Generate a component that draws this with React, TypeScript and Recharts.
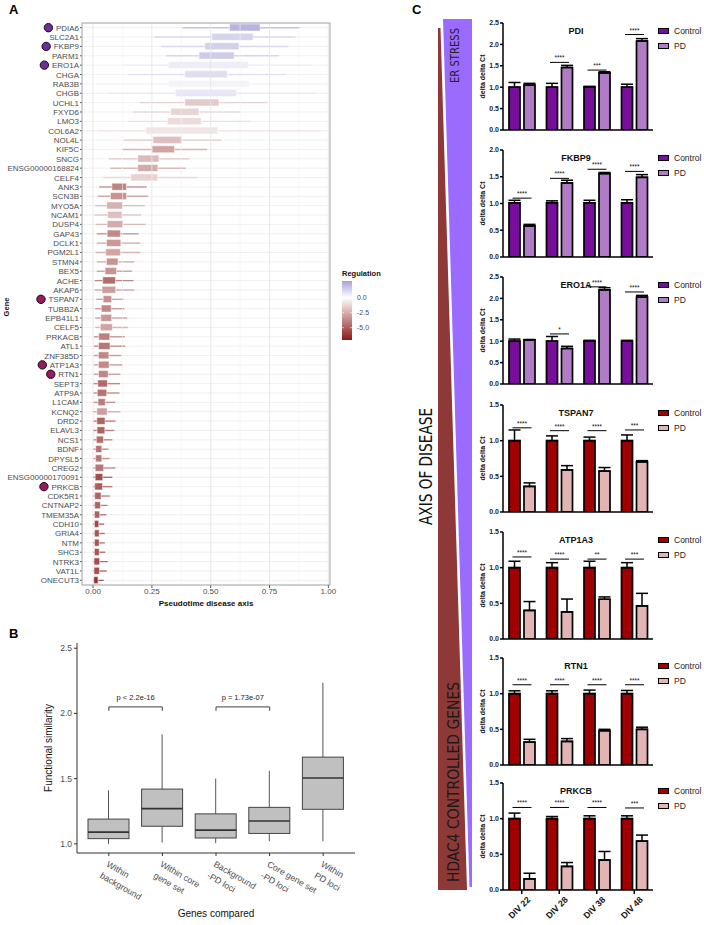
import React from "react";
import {
  ComposedChart, BarChart, Bar, XAxis, YAxis, CartesianGrid, Cell,
  ReferenceLine, ErrorBar, LabelList, Legend,
} from "recharts";

const FONT = '"Liberation Sans", Arial, sans-serif';

// ---------- A: genes along the pseudotime disease axis ----------
const GENES = [
  "PDIA6", "SLC2A1", "FKBP9", "PARM1", "ERO1A", "CHGA", "RAB3B", "CHGB", "UCHL1", "FXYD6",
  "LMO3", "COL6A2", "NOL4L", "KIF5C", "SNCG", "ENSG00000168824", "CELF4", "ANK3", "SCN3B", "MYO5A",
  "NCAM1", "DUSP4", "GAP43", "DCLK1", "PGM2L1", "STMN4", "BEX5", "ACHE", "AKAP6", "TSPAN7",
  "TUBB2A", "EPB41L1", "CELF5", "PRKACB", "ATL1", "ZNF385D", "ATP1A3", "RTN1", "SEPT3", "ATP9A",
  "L1CAM", "KCNQ2", "DRD2", "ELAVL3", "NCS1", "BDNF", "DPYSL5", "CREG2", "ENSG00000170091", "PRKCB",
  "CDK5R1", "CNTNAP2", "TMEM35A", "CDH10", "GRIA4", "NTM", "SHC3", "NTRK3", "VAT1L", "ONECUT3",
];
const WHISKER_LO = [
  0.38, 0.26, 0.29, 0.31, 0.13, 0.15, 0.08, 0.06, 0.20, 0.17,
  0.15, 0.02, 0.13, 0.125, 0.067, 0.074, 0.044, 0.026, 0.02, 0.01,
  0.006, 0.011, 0.016, 0.016, 0.011, 0.017, 0.016, 0.007, 0.007, 0.014,
  0.009, 0.009, 0.01, 0.004, 0.004, 0.004, 0.004, 0.004, 0.001, 0.001,
  0.001, 0.0, 0.001, 0.001, 0.001, 0.001, 0.001, 0.0, 0.0, 0.0,
  0.0, 0.0, 0.0, 0.0, 0.0, 0.0, 0.0, 0.0, 0.0, 0.0,
];
const BOX_LO = [
  0.58, 0.505, 0.475, 0.45, 0.32, 0.39, 0.32, 0.35, 0.39, 0.33,
  0.316, 0.224, 0.255, 0.25, 0.19, 0.19, 0.16, 0.08, 0.074, 0.058,
  0.062, 0.06, 0.06, 0.057, 0.054, 0.057, 0.051, 0.041, 0.038, 0.043,
  0.035, 0.033, 0.031, 0.024, 0.023, 0.023, 0.023, 0.023, 0.02, 0.018,
  0.021, 0.016, 0.016, 0.017, 0.014, 0.011, 0.011, 0.009, 0.009, 0.007,
  0.007, 0.007, 0.006, 0.006, 0.006, 0.006, 0.006, 0.004, 0.004, 0.003,
];
const BOX_HI = [
  0.71, 0.68, 0.62, 0.60, 0.66, 0.57, 0.665, 0.61, 0.535, 0.45,
  0.46, 0.53, 0.376, 0.346, 0.28, 0.275, 0.275, 0.142, 0.142, 0.126,
  0.123, 0.128, 0.116, 0.118, 0.116, 0.106, 0.10, 0.095, 0.096, 0.079,
  0.077, 0.079, 0.082, 0.071, 0.072, 0.067, 0.068, 0.064, 0.061, 0.058,
  0.052, 0.06, 0.051, 0.05, 0.044, 0.037, 0.037, 0.045, 0.041, 0.04,
  0.034, 0.031, 0.028, 0.024, 0.026, 0.026, 0.026, 0.028, 0.027, 0.021,
];
const WHISKER_HI = [
  0.88, 0.86, 0.83, 0.79, 0.93, 0.82, 0.97, 0.95, 0.74, 0.627,
  0.67, 0.96, 0.546, 0.484, 0.41, 0.394, 0.445, 0.228, 0.234, 0.22,
  0.204, 0.223, 0.193, 0.20, 0.20, 0.174, 0.165, 0.172, 0.176, 0.129,
  0.133, 0.145, 0.148, 0.135, 0.137, 0.12, 0.126, 0.116, 0.115, 0.112,
  0.094, 0.116, 0.095, 0.09, 0.082, 0.065, 0.07, 0.095, 0.082, 0.082,
  0.071, 0.062, 0.057, 0.047, 0.05, 0.05, 0.052, 0.062, 0.058, 0.045,
];
const REGULATION = [
  2.2, 1.3, 1.4, 1.5, 0.5, 1.0, 0.35, 0.7, -1.6, -1.3,
  -1.1, -0.8, -2.0, -2.8, -2.1, -2.6, -1.4, -3.8, -3.3, -2.4,
  -2.0, -2.6, -3.6, -3.2, -2.8, -3.3, -3.3, -4.5, -3.0, -3.4,
  -3.7, -3.2, -2.8, -3.9, -4.2, -3.7, -3.6, -3.7, -4.6, -4.3,
  -4.0, -3.0, -4.8, -4.8, -4.5, -4.3, -4.2, -4.2, -5.5, -5.0,
  -4.8, -4.8, -4.8, -5.6, -5.2, -5.2, -5.3, -5.4, -5.5, -6.2,
];
const ER_GENES = ["PDIA6", "FKBP9", "ERO1A"];
const HDAC_GENES = ["TSPAN7", "ATP1A3", "RTN1", "PRKCB"];
const PSEUDO_TICKS = [0, 0.25, 0.5, 0.75, 1];
const PSEUDO_MINOR = [0.125, 0.375, 0.625, 0.875];

// ---------- B: functional similarity ----------
const B_CATS = ["Within\nbackground", "Within core\ngene set", "Background\n-PD loci", "Core gene set\n-PD loci", "Within\nPD loci"];
const B_MIN = [1.0, 1.01, 1.005, 1.02, 1.02];
const B_Q1 = [1.04, 1.135, 1.045, 1.08, 1.265];
const B_MED = [1.09, 1.27, 1.105, 1.175, 1.505];
const B_Q3 = [1.19, 1.42, 1.23, 1.28, 1.665];
const B_MAX = [1.41, 1.84, 1.50, 1.56, 2.235];
const B_TICKS = [1.0, 1.5, 2.0, 2.5];

// ---------- C: qPCR ----------
const DIV = ["DIV 22", "DIV 28", "DIV 38", "DIV 48"];

const PDI_CONTROL = [1.0, 1.0, 1.0, 1.0];
const PDI_CONTROL_SEM = [0.11, 0.09, 0.02, 0.07];
const PDI_PD = [1.05, 1.46, 1.335, 2.08];
const PDI_PD_SEM = [0.04, 0.05, 0.025, 0.055];
const PDI_STARS = ["", "****", "***", "****"];
const PDI_STAR_Y = [0, 1.58, 1.40, 2.23];

const FKBP9_CONTROL = [1.01, 1.01, 1.01, 1.01];
const FKBP9_CONTROL_SEM = [0.05, 0.04, 0.05, 0.06];
const FKBP9_PD = [0.58, 1.385, 1.56, 1.49];
const FKBP9_PD_SEM = [0.03, 0.05, 0.02, 0.05];
const FKBP9_STARS = ["****", "****", "****", "****"];
const FKBP9_STAR_Y = [1.10, 1.47, 1.64, 1.60];

const ERO1A_CONTROL = [1.0, 1.0, 1.0, 1.0];
const ERO1A_CONTROL_SEM = [0.05, 0.11, 0.02, 0.02];
const ERO1A_PD = [1.03, 0.83, 2.2, 2.03];
const ERO1A_PD_SEM = [0.01, 0.05, 0.05, 0.04];
const ERO1A_STARS = ["", "*", "****", "****"];
const ERO1A_STAR_Y = [0, 1.17, 2.27, 2.15];

const TSPAN7_CONTROL = [1.0, 1.0, 1.0, 1.0];
const TSPAN7_CONTROL_SEM = [0.15, 0.067, 0.05, 0.08];
const TSPAN7_PD = [0.358, 0.59, 0.573, 0.703];
const TSPAN7_PD_SEM = [0.05, 0.06, 0.05, 0.017];
const TSPAN7_STARS = ["****", "****", "****", "***"];
const TSPAN7_STAR_Y = [1.18, 1.14, 1.14, 1.15];

const ATP1A3_CONTROL = [1.0, 1.0, 1.0, 1.0];
const ATP1A3_CONTROL_SEM = [0.09, 0.07, 0.09, 0.07];
const ATP1A3_PD = [0.40, 0.38, 0.557, 0.464];
const ATP1A3_PD_SEM = [0.125, 0.18, 0.033, 0.176];
const ATP1A3_STARS = ["****", "****", "**", "***"];
const ATP1A3_STAR_Y = [1.15, 1.12, 1.12, 1.12];

const RTN1_CONTROL = [1.0, 1.0, 1.0, 1.0];
const RTN1_CONTROL_SEM = [0.04, 0.04, 0.05, 0.045];
const RTN1_PD = [0.32, 0.33, 0.48, 0.50];
const RTN1_PD_SEM = [0.04, 0.04, 0.02, 0.03];
const RTN1_STARS = ["****", "****", "****", "****"];
const RTN1_STAR_Y = [1.125, 1.125, 1.125, 1.125];

const PRKCB_CONTROL = [1.0, 1.0, 1.0, 1.0];
const PRKCB_CONTROL_SEM = [0.078, 0.03, 0.04, 0.04];
const PRKCB_PD = [0.155, 0.33, 0.42, 0.685];
const PRKCB_PD_SEM = [0.08, 0.055, 0.12, 0.085];
const PRKCB_STARS = ["****", "****", "****", "***"];
const PRKCB_STAR_Y = [1.157, 1.157, 1.157, 1.15];

const ER_COLORS = ["#770f9c", "#b07cc6"];
const HD_COLORS = ["#a00000", "#e2b4b4"];

const QPCR = [
  { name: "PDI", max: 2.5, top: 23, colors: ER_COLORS, c: PDI_CONTROL, ce: PDI_CONTROL_SEM, p: PDI_PD, pe: PDI_PD_SEM, s: PDI_STARS, sy: PDI_STAR_Y },
  { name: "FKBP9", max: 2.0, top: 150, colors: ER_COLORS, c: FKBP9_CONTROL, ce: FKBP9_CONTROL_SEM, p: FKBP9_PD, pe: FKBP9_PD_SEM, s: FKBP9_STARS, sy: FKBP9_STAR_Y },
  { name: "ERO1A", max: 2.5, top: 277, colors: ER_COLORS, c: ERO1A_CONTROL, ce: ERO1A_CONTROL_SEM, p: ERO1A_PD, pe: ERO1A_PD_SEM, s: ERO1A_STARS, sy: ERO1A_STAR_Y },
  { name: "TSPAN7", max: 1.5, top: 405, colors: HD_COLORS, c: TSPAN7_CONTROL, ce: TSPAN7_CONTROL_SEM, p: TSPAN7_PD, pe: TSPAN7_PD_SEM, s: TSPAN7_STARS, sy: TSPAN7_STAR_Y },
  { name: "ATP1A3", max: 1.5, top: 532, colors: HD_COLORS, c: ATP1A3_CONTROL, ce: ATP1A3_CONTROL_SEM, p: ATP1A3_PD, pe: ATP1A3_PD_SEM, s: ATP1A3_STARS, sy: ATP1A3_STAR_Y },
  { name: "RTN1", max: 1.5, top: 658, colors: HD_COLORS, c: RTN1_CONTROL, ce: RTN1_CONTROL_SEM, p: RTN1_PD, pe: RTN1_PD_SEM, s: RTN1_STARS, sy: RTN1_STAR_Y },
  { name: "PRKCB", max: 1.5, top: 783, colors: HD_COLORS, c: PRKCB_CONTROL, ce: PRKCB_CONTROL_SEM, p: PRKCB_PD, pe: PRKCB_PD_SEM, s: PRKCB_STARS, sy: PRKCB_STAR_Y },
];

// ---------- helpers ----------
let measureCtx: CanvasRenderingContext2D | null = null;
function textWidth(s: string, font: string) {
  if (!measureCtx) measureCtx = document.createElement("canvas").getContext("2d");
  if (!measureCtx) return s.length * 4.5;
  measureCtx.font = font;
  return measureCtx.measureText(s).width;
}

function mix(a: number[], t: number) {
  const c = a.map(v => Math.round(255 + (v - 255) * t));
  return `rgb(${c[0]},${c[1]},${c[2]})`;
}
const UP = [166, 160, 214];
const DOWN = [139, 26, 26];
function regColor(r: number) {
  return r >= 0 ? mix(UP, Math.min(1, r / 2.8)) : mix(DOWN, Math.min(1, -r / 7));
}

function GeneTick(props: any) {
  const { x, y, payload } = props;
  const g = String(payload.value);
  const w = textWidth(g, `8px ${FONT}`);
  const dot = ER_GENES.includes(g) ? "#6f2c9a" : HDAC_GENES.includes(g) ? "#98195f" : null;
  return (
    <g>
      <text x={x} y={y} dy={3} textAnchor="end" fontSize={8} fill="#4d4d4d">{g}</text>
      {dot && <circle cx={x - w - 7.5} cy={y} r={4.2} fill={dot} stroke="#111" strokeWidth={1} />}
    </g>
  );
}

function BoxTick(props: any) {
  const { x, y, payload } = props;
  const lines = String(payload.value).split("\n");
  return (
    <g transform={`translate(${x + 1},${y + 1}) rotate(30)`}>
      <text fontSize={8.8} fill="#4d4d4d">
        {lines.map((l, i) => <tspan key={i} x={0} dy={i === 0 ? 8 : 13}>{l}</tspan>)}
      </text>
    </g>
  );
}

function BoxShape(props: any) {
  const { x, y, width, height, payload } = props;
  const top = Math.min(y, y + height);
  const h = Math.abs(height);
  const { lo, q1, med, q3, hi } = payload;
  const py = (v: number) => top + (h * (hi - v)) / (hi - lo);
  const cx = x + width / 2;
  return (
    <g>
      <line x1={cx} x2={cx} y1={top} y2={py(q3)} stroke="#555" strokeWidth={1} />
      <line x1={cx} x2={cx} y1={py(q1)} y2={top + h} stroke="#555" strokeWidth={1} />
      <rect x={x} y={py(q3)} width={width} height={py(q1) - py(q3)} fill="#c0c0c0" stroke="#444" strokeWidth={1} />
      <line x1={x} x2={x + width} y1={py(med)} y2={py(med)} stroke="#333" strokeWidth={1.6} />
    </g>
  );
}

function DivTick(props: any) {
  const { x, y, payload } = props;
  return (
    <g transform={`translate(${x + 5},${y}) rotate(-45)`}>
      <text x={0} y={0} dy={6} textAnchor="end" fontSize={8.8} fontWeight="bold" fill="#111">{payload.value}</text>
    </g>
  );
}

function makeSig(stars: string[], starY: number[], values: number[]) {
  return (p: any) => {
    const vb = p.viewBox || {};
    const x = p.x ?? vb.x, y = p.y ?? vb.y, width = p.width ?? vb.width, height = p.height ?? vb.height;
    const i = p.index;
    if (i == null || !stars[i]) return null;
    const v = values[i];
    const zero = y + height;
    const ppu = height / v;
    const sy = zero - starY[i] * ppu;
    const x1 = x - 4 - width / 2 - 2;
    const x2 = x + width / 2 + 2;
    return (
      <g>
        <line x1={x1} x2={x2} y1={sy} y2={sy} stroke="#000" strokeWidth={1} />
        <text x={(x1 + x2) / 2} y={sy - 2} textAnchor="middle" fontSize={6.5} fill="#111">{stars[i]}</text>
      </g>
    );
  };
}

function qpcrLegend(colors: string[]) {
  return () => (
    <div style={{ fontSize: 8.5, color: "#222", fontFamily: FONT }}>
      {["Control", "PD"].map((n, i) => (
        <div key={n} style={{ display: "flex", alignItems: "center", height: 15 }}>
          <span style={{ width: 9, height: 4, background: colors[i], border: "1.5px solid #000", marginRight: 5 }} />
          {n}
        </div>
      ))}
    </div>
  );
}

function QpcrChart({ cfg, last }: { cfg: typeof QPCR[number]; last: boolean }) {
  const rows = DIV.map((d, i) => ({
    div: d,
    control: cfg.c[i], controlErr: [0, cfg.ce[i]],
    pd: cfg.p[i], pdErr: [0, cfg.pe[i]],
  }));
  const ticks: number[] = [];
  for (let t = 0; t <= cfg.max + 1e-9; t += 0.5) ticks.push(t);
  const xh = last ? 42 : 6;
  return (
    <div style={{ position: "absolute", left: 470, top: cfg.top - 8 }}>
      <BarChart width={234} height={8 + 107 + xh} data={rows} margin={{ top: 8, right: 51, bottom: 0, left: 0 }} barSize={11} barGap={4}>
        <XAxis dataKey="div" height={xh} tickSize={4} interval={0}
          tick={last ? <DivTick /> : false}
          axisLine={{ stroke: "#000", strokeWidth: 1.5 }} tickLine={{ stroke: "#000", strokeWidth: 1.5 }} />
        <YAxis width={33} type="number" domain={[0, cfg.max]} ticks={ticks} tickFormatter={(v: number) => v.toFixed(1)}
          tickSize={3} tickMargin={1} allowDataOverflow
          tick={{ fontSize: 7, fontWeight: 700, fill: "#222" }}
          axisLine={{ stroke: "#000", strokeWidth: 1.5 }} tickLine={{ stroke: "#000", strokeWidth: 1.5 }}
          label={{ value: "delta delta Ct", angle: -90, position: "center", dx: -4, fontSize: 7, fontWeight: 700, fill: "#111" }} />
        <Bar dataKey="control" fill={cfg.colors[0]} stroke="#000" strokeWidth={1.7} isAnimationActive={false}>
          <ErrorBar dataKey="controlErr" direction="y" width={6} stroke="#000" strokeWidth={1.5} />
        </Bar>
        <Bar dataKey="pd" fill={cfg.colors[1]} stroke="#000" strokeWidth={1.7} isAnimationActive={false}>
          <ErrorBar dataKey="pdErr" direction="y" width={6} stroke="#000" strokeWidth={1.5} />
          <LabelList dataKey="pd" content={makeSig(cfg.s, cfg.sy, cfg.p)} />
        </Bar>
        <Legend layout="vertical" align="center" verticalAlign="middle" content={qpcrLegend(cfg.colors)}
          wrapperStyle={{ position: "absolute", left: 188, top: 8, width: 46, height: 30 }} />
      </BarChart>
    </div>
  );
}

export default function App() {
  const geneRows = GENES.map((g, i) => ({
    gene: g,
    box: [BOX_LO[i], BOX_HI[i]],
    whisker: [WHISKER_LO[i], WHISKER_HI[i]],
  }));
  const boxRows = B_CATS.map((c, i) => ({
    cat: c, range: [B_MIN[i], B_MAX[i]],
    lo: B_MIN[i], q1: B_Q1[i], med: B_MED[i], q3: B_Q3[i], hi: B_MAX[i],
  }));

  return (
    <div style={{ position: "absolute", left: 0, top: 0, width: 704, height: 925, background: "#fff", overflow: "hidden", fontFamily: FONT }}>
      {/* A */}
      <div style={{ position: "absolute", left: 0, top: 0 }}>
        <ComposedChart layout="vertical" width={340} height={610} data={geneRows} margin={{ top: 23, right: 10, bottom: 0, left: 0 }}>
          <CartesianGrid yAxisId="b" vertical={false} stroke="#ececec" strokeWidth={0.8} />
          {PSEUDO_MINOR.map(v => <ReferenceLine key={"m" + v} yAxisId="b" x={v} stroke="#f3f3f3" strokeWidth={0.6} />)}
          {PSEUDO_TICKS.map(v => <ReferenceLine key={"M" + v} yAxisId="b" x={v} stroke="#e6e6e6" strokeWidth={0.9} />)}
          <XAxis type="number" domain={[-0.047, 1.007]} allowDataOverflow ticks={PSEUDO_TICKS}
            tickFormatter={(v: number) => v.toFixed(2)} height={25} tickSize={3} tickMargin={0}
            axisLine={false} tickLine={{ stroke: "#555" }} tick={{ fontSize: 8, fill: "#4d4d4d" }}
            label={{ value: "Pseudotime disease axis", position: "insideBottom", offset: 4, fontSize: 8, fontWeight: 700, fill: "#111" }} />
          <YAxis yAxisId="b" type="category" dataKey="gene" width={82} interval={0} tickSize={2} tickMargin={1}
            axisLine={false} tickLine={{ stroke: "#555" }} tick={<GeneTick />} />
          <YAxis yAxisId="w" type="category" dataKey="gene" hide />
          <Bar yAxisId="w" dataKey="whisker" barSize={1.4} isAnimationActive={false}>
            {GENES.map((g, i) => <Cell key={g} fill={regColor(REGULATION[i])} fillOpacity={0.8} />)}
          </Bar>
          <Bar yAxisId="b" dataKey="box" barSize={7} stroke="#fff" strokeWidth={0.5} isAnimationActive={false}>
            {GENES.map((g, i) => <Cell key={g} fill={regColor(REGULATION[i])} />)}
          </Bar>
        </ComposedChart>
      </div>

      {/* B */}
      <div style={{ position: "absolute", left: 0, top: 620 }}>
        <ComposedChart width={370} height={300} data={boxRows} margin={{ top: 23, right: 15, bottom: 0, left: 0 }}>
          <XAxis dataKey="cat" height={67} padding={{ left: 5, right: 5 }} interval={0} tickSize={3}
            axisLine={{ stroke: "#333" }} tickLine={{ stroke: "#333" }} tick={<BoxTick />}
            label={{ value: "Genes compared", position: "insideBottom", offset: 3, fontSize: 10, fill: "#111" }} />
          <YAxis type="number" domain={[0.93, 2.54]} allowDataOverflow ticks={B_TICKS} tickFormatter={(v: number) => v.toFixed(1)}
            width={77} tickSize={3} tickMargin={2} axisLine={{ stroke: "#333" }} tickLine={{ stroke: "#333" }}
            tick={{ fontSize: 8.5, fill: "#4d4d4d" }}
            label={{ value: "Functional similarity", angle: -90, position: "center", dx: 10, fontSize: 10, fill: "#111" }} />
          <Bar dataKey="range" barSize={41} shape={<BoxShape />} isAnimationActive={false} />
          <ReferenceLine segment={[{ x: B_CATS[0], y: 2.05 }, { x: B_CATS[1], y: 2.05 }]} stroke="#666" strokeWidth={1.3}
            label={{ value: "p < 2.2e-16", position: "top", offset: 7, fontSize: 7.5, fill: "#222" }} />
          <ReferenceLine segment={[{ x: B_CATS[0], y: 2.05 }, { x: B_CATS[0], y: 2.02 }]} stroke="#666" strokeWidth={1.3} />
          <ReferenceLine segment={[{ x: B_CATS[1], y: 2.05 }, { x: B_CATS[1], y: 2.02 }]} stroke="#666" strokeWidth={1.3} />
          <ReferenceLine segment={[{ x: B_CATS[2], y: 2.05 }, { x: B_CATS[3], y: 2.05 }]} stroke="#666" strokeWidth={1.3}
            label={{ value: "p = 1.73e-07", position: "top", offset: 7, fontSize: 7.5, fill: "#222" }} />
          <ReferenceLine segment={[{ x: B_CATS[2], y: 2.05 }, { x: B_CATS[2], y: 2.02 }]} stroke="#666" strokeWidth={1.3} />
          <ReferenceLine segment={[{ x: B_CATS[3], y: 2.05 }, { x: B_CATS[3], y: 2.02 }]} stroke="#666" strokeWidth={1.3} />
        </ComposedChart>
      </div>

      {/* C */}
      {QPCR.map((cfg, i) => <QpcrChart key={cfg.name} cfg={cfg} last={i === QPCR.length - 1} />)}

      {/* decorations, panel letters, titles */}
      <svg width={704} height={925} style={{ position: "absolute", left: 0, top: 0, pointerEvents: "none" }}>
        <defs>
          <linearGradient id="reg" x1="0" y1="0" x2="0" y2="1">
            <stop offset="0" stopColor={regColor(2.8)} />
            <stop offset="0.283" stopColor="#ffffff" />
            <stop offset="1" stopColor={regColor(-7)} />
          </linearGradient>
        </defs>
        <text x={9} y={14} fontSize={13} fontWeight="bold" fill="#000">A</text>
        <text x={9} y={638} fontSize={13} fontWeight="bold" fill="#000">B</text>
        <text x={412} y={14} fontSize={13} fontWeight="bold" fill="#000">C</text>

        <rect x={82} y={23} width={248} height={562} fill="none" stroke="#a6a6a6" strokeWidth={1} />
        <text x={9} y={307} transform="rotate(-90 9 307)" textAnchor="middle" fontSize={7.5} fontWeight="bold" fill="#111">Gene</text>

        <text x={342} y={276} fontSize={7.5} fontWeight="bold" fill="#111">Regulation</text>
        <rect x={342} y={281} width={10} height={59} fill="url(#reg)" />
        {[0, -2.5, -5].map((v, i) => {
          const yy = 297.7 + i * 15;
          return (
            <g key={v}>
              <line x1={342} x2={344} y1={yy} y2={yy} stroke="#fff" strokeWidth={0.6} />
              <line x1={350} x2={352} y1={yy} y2={yy} stroke="#fff" strokeWidth={0.6} />
              <text x={357} y={yy + 2.5} fontSize={7} fill="#4d4d4d">{v.toFixed(1)}</text>
            </g>
          );
        })}

        <polygon points="438,28 440.5,28 467,890 438,890" fill="#8f3838" />
        <polygon points="443,19 472,19 472,887 469.5,887" fill="#9b6bff" />
        <text x={459} y={55.5} transform="rotate(-90 459 55.5)" textAnchor="middle" fontSize={13}
          fontFamily='"DejaVu Sans Condensed", "Liberation Sans Narrow", sans-serif' fill="#222"
          textLength={55} lengthAdjust="spacingAndGlyphs">ER STRESS</text>
        <text x={432} y={466.5} transform="rotate(-90 432 466.5)" textAnchor="middle" fontSize={17}
          fontFamily='"DejaVu Sans Condensed", "Liberation Sans Narrow", sans-serif' fill="#111"
          textLength={117} lengthAdjust="spacingAndGlyphs">AXIS OF DISEASE</text>
        <text x={459} y={782} transform="rotate(-90 459 782)" textAnchor="middle" fontSize={16}
          fontFamily='"DejaVu Sans Condensed", "Liberation Sans Narrow", sans-serif' fill="#1a1a1a"
          textLength={200} lengthAdjust="spacingAndGlyphs">HDAC4 CONTROLLED GENES</text>

        {QPCR.map(cfg => (
          <text key={cfg.name} x={576} y={cfg.top + 11} textAnchor="middle" fontSize={9} fontWeight="bold" fill="#111">{cfg.name}</text>
        ))}
      </svg>
    </div>
  );
}
